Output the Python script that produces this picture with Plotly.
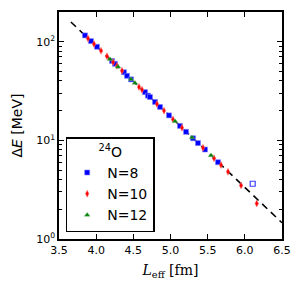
import plotly.graph_objects as go

# N=8 (blue squares)
L_n8 = [3.850, 3.930, 4.011, 4.213, 4.253, 4.374, 4.415, 4.469, 4.657, 4.697, 4.724,
        4.792, 4.859, 4.980, 5.128, 5.209, 5.303, 5.370, 5.464, 5.639]
E_n8 = [115.8, 101.4, 88.9, 63.8, 59.7, 49.0, 45.1, 41.5, 30.8, 28.4, 27.5,
        24.5, 21.8, 17.9, 14.0, 12.2, 10.5, 9.38, 8.07, 6.00]
# N=8 outlier (open square)
L_n8_open = [6.106]
E_n8_open = [3.63]
# N=10 (red diamonds)
L_n10 = [3.890, 3.971, 4.065, 4.146, 4.227, 4.280, 4.348, 4.576, 4.617, 4.818,
         4.913, 5.034, 5.155, 5.437, 5.585, 5.680, 5.774, 5.949, 6.160]
E_n10 = [108.0, 94.8, 81.1, 71.0, 62.1, 56.9, 50.8, 34.8, 32.6, 23.4,
         20.0, 16.3, 13.4, 8.40, 6.58, 5.62, 4.81, 3.49, 2.29]
# N=12 (green triangles)
L_n12 = [4.186, 4.294, 4.469, 4.522, 5.061, 5.289, 5.545]
E_n12 = [66.4, 55.6, 41.6, 38.1, 15.6, 10.7, 7.03]
# dashed fit line end points
L_fit = [3.66, 6.50]
E_fit = [158.5, 1.46]

xticks = [3.5, 4.0, 4.5, 5.0, 5.5, 6.0, 6.5]
yticks = [1, 10, 100]
yticktext = ["10<sup>0</sup>", "10<sup>1</sup>", "10<sup>2</sup>"]

fig = go.Figure()
fig.add_trace(go.Scatter(x=L_fit, y=E_fit, mode="lines",
                         line=dict(color="black", width=1.6, dash="7px,5px"),
                         showlegend=False, hoverinfo="skip"))
fig.add_trace(go.Scatter(x=L_n8, y=E_n8, mode="markers", name="N=8",
                         marker=dict(symbol="square", size=5, color="#0000ff",
                                     line=dict(width=0.6, color="#8080ff"))))
fig.add_trace(go.Scatter(x=L_n10, y=E_n10, mode="markers", name="N=10",
                         marker=dict(symbol="diamond-tall", size=5, color="#ff0000",
                                     line=dict(width=0.5, color="#ff8080"))))
fig.add_trace(go.Scatter(x=L_n12, y=E_n12, mode="markers", name="N=12",
                         marker=dict(symbol="triangle-up", size=5, color="#007f00",
                                     line=dict(width=0.5, color="#80bf80"))))
fig.add_trace(go.Scatter(x=L_n8_open, y=E_n8_open, mode="markers", showlegend=False,
                         marker=dict(symbol="square-open", size=5, color="#4040ff",
                                     line=dict(width=1.2))))

axis_font = dict(family="DejaVu Sans", size=11, color="black")
fig.update_xaxes(range=[3.5, 6.5], tickvals=xticks, ticktext=[f"{v:.1f}" for v in xticks],
                 ticks="inside", ticklen=5, tickwidth=1, tickcolor="black",
                 showline=True, linecolor="black", linewidth=1.5, mirror="ticks",
                 showgrid=False, zeroline=False, tickfont=axis_font,
                 title=dict(text="<i>L</i><sub>eff</sub> [fm]",
                            font=dict(family="DejaVu Serif", size=14, color="black"),
                            standoff=9))
fig.update_yaxes(type="log", range=[0, 2.301], tickvals=yticks, ticktext=yticktext,
                 ticks="inside", ticklen=5, tickwidth=1, tickcolor="black",
                 minor=dict(ticks="inside", ticklen=3, tickwidth=1, tickcolor="black",
                            tickvals=[2, 3, 4, 5, 6, 7, 8, 9, 20, 30, 40, 50, 60, 70, 80, 90, 200],
                            showgrid=False),
                 showline=True, linecolor="black", linewidth=1.5, mirror="ticks",
                 showgrid=False, zeroline=False, tickfont=axis_font,
                 title=dict(text="Δ<i>E</i> [MeV]",
                            font=dict(family="DejaVu Sans", size=14, color="black"),
                            standoff=10))

fig.update_layout(
    width=292, height=281,
    margin=dict(l=51, r=18, t=2, b=50),
    paper_bgcolor="white", plot_bgcolor="white",
    legend=dict(x=0.03, y=0.03, xanchor="left", yanchor="bottom",
                bordercolor="black", borderwidth=1.5, bgcolor="white",
                font=dict(family="DejaVu Sans", size=14, color="black"),
                title=dict(text="<sup>24</sup>O", side="top center",
                           font=dict(family="DejaVu Sans", size=14, color="black")),
                itemwidth=30, tracegroupgap=2),
)

fig.write_html("out.html")
